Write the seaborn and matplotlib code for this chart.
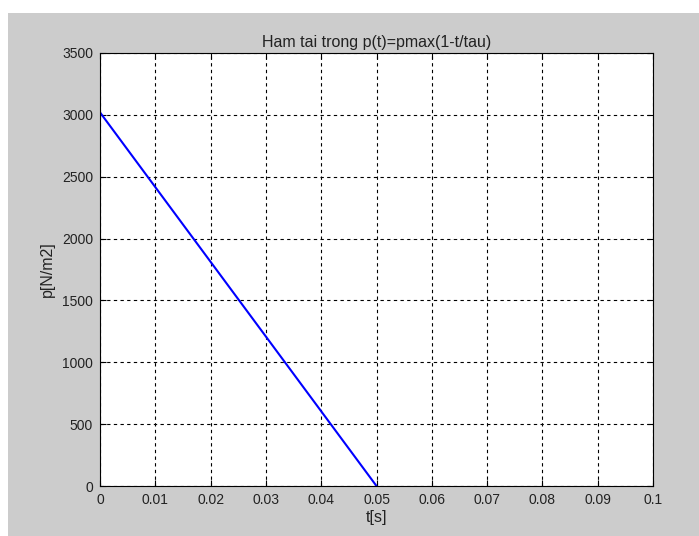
import numpy as np
import pandas as pd
import matplotlib
matplotlib.use('Agg')
import matplotlib.pyplot as plt
import seaborn as sns
from matplotlib.patches import Rectangle

# load function p(t) = pmax(1 - t/tau), pmax ~ 3020, tau = 0.05
t_vals = [0.0, 0.05]
p_vals = [3020, 0]
x_ticks = [0, 0.01, 0.02, 0.03, 0.04, 0.05, 0.06, 0.07, 0.08, 0.09, 0.1]
x_labels = ['0', '0.01', '0.02', '0.03', '0.04', '0.05', '0.06', '0.07', '0.08', '0.09', '0.1']
y_ticks = [0, 500, 1000, 1500, 2000, 2500, 3000, 3500]

df = pd.DataFrame({'t': t_vals, 'p': p_vals})

sns.set_style('ticks')
plt.rcParams['font.family'] = ['Liberation Sans', 'DejaVu Sans']
plt.rcParams['font.size'] = 10

fig = plt.figure(figsize=(6.99, 5.36), dpi=100, facecolor='white')
# grey figure panel (white strip top and left as in the screenshot)
fig.patches.append(Rectangle((8 / 699, 0), 1, (536 - 13) / 536, transform=fig.transFigure,
                             facecolor='#cccccc', edgecolor='none', zorder=-10))

ax = fig.add_axes([100 / 699, 50 / 536, 553 / 699, 433 / 536])
ax.set_zorder(1)
ax.set_facecolor('white')
sns.lineplot(data=df, x='t', y='p', color='blue', linewidth=1.5, ax=ax)

ax.set_xlim(0, 0.1)
ax.set_ylim(0, 3500)
ax.set_xticks(x_ticks)
ax.set_xticklabels(x_labels)
ax.set_yticks(y_ticks)
ax.grid(True, color='black', linestyle=(0, (3, 3)), linewidth=0.8)
ax.tick_params(direction='in', top=True, right=True, length=4, color='black',
               labelsize=10, labelcolor='#222222', pad=5)
for s in ax.spines.values():
    s.set_visible(True)
    s.set_color('black')
    s.set_linewidth(0.8)

ax.set_title('Ham tai trong p(t)=pmax(1-t/tau)', fontsize=11.5, pad=4, color='#222222')
ax.set_xlabel('t[s]', fontsize=11.5, labelpad=2, color='#222222')
ax.set_ylabel('p[N/m2]', fontsize=11.5, labelpad=5, color='#222222')

fig.savefig('out.png', dpi=100, facecolor=fig.get_facecolor())
